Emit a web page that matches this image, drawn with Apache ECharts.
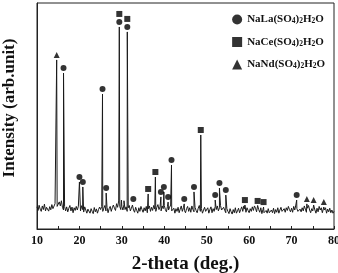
<!DOCTYPE html>
<html>
<head>
<meta charset="utf-8">
<script src="https://cdn.jsdelivr.net/npm/echarts@6/dist/echarts.min.js"></script>
<style>
  html, body { margin: 0; padding: 0; background: #fff; }
  #chart { width: 338px; height: 273px; }
</style>
</head>
<body>
<div id="chart"></div>
<script>
// 2-theta range, baseline sampled every 0.25 deg
const thetaStart = 10
const thetaStep = 0.25

// noisy background counts, 10.00 .. 80.00 deg
const baseline = [
  98, 82, 105, 88, 78, 102, 86, 110, 80, 96, 104, 79, 99, 85, 108, 90, 82, 112, 118, 100,
  95, 120, 102, 125, 96, 84, 100, 80, 98, 76, 92, 104, 80, 97, 72, 94, 82, 100, 84, 101,
  94, 80, 103, 86, 75, 98, 84, 70, 88, 96, 70, 90, 78, 68, 95, 76, 89, 70, 86, 97,
  86, 100, 78, 92, 104, 80, 96, 72, 90, 100, 78, 94, 106, 92, 82, 112, 96, 124, 100, 86,
  100, 84, 108, 86, 98, 78, 94, 104, 80, 92, 106, 84, 74, 96, 82, 70, 94, 78, 100, 86,
  74, 94, 80, 100, 72, 90, 102, 78, 96, 82, 104, 88, 78, 96, 108, 86, 98, 80, 102, 90,
  104, 86, 76, 100, 84, 96, 106, 80, 74, 92, 70, 90, 78, 96, 72, 88, 102, 78, 94, 82,
  72, 90, 100, 78, 94, 74, 102, 86, 76, 96, 82, 72, 92, 104, 78, 90, 70, 84, 96, 78,
  74, 94, 70, 86, 98, 72, 90, 78, 100, 86, 102, 80, 94, 104, 84, 76, 96, 82, 72, 90,
  78, 68, 90, 76, 66, 86, 72, 94, 70, 80, 92, 72, 86, 98, 78, 102, 88, 74, 94, 82,
  72, 90, 78, 98, 82, 102, 92, 76, 104, 86, 74, 94, 68, 86, 72, 64, 82, 70, 90, 72,
  66, 84, 72, 92, 68, 86, 74, 94, 70, 84, 96, 78, 70, 90, 74, 94, 82, 100, 86, 76,
  92, 74, 100, 84, 106, 90, 78, 70, 88, 76, 94, 80, 102, 88, 74, 92, 104, 84, 72, 90,
  80, 98, 84, 70, 92, 76, 100, 84, 94, 72, 66, 84, 94, 70, 88, 76, 92, 72, 84, 70,
  78
]

// diffraction peaks: position (deg) and top intensity
const peakPos = [14.64, 16.25, 20.0, 20.8, 25.44, 26.3, 29.4, 29.9, 30.5, 31.28, 32.7,
  36.2, 37.9, 39.2, 39.9, 40.9, 41.7, 44.7, 47.0, 48.6, 52.0, 53.0, 54.5,
  59.0, 62.0, 63.4, 71.2, 73.6, 75.2, 77.6]
const peakInt = [748, 690, 208, 186, 597, 159, 894, 128, 125, 872, 111,
  155, 230, 142, 164, 119, 283, 111, 164, 416, 128, 181, 150,
  106, 102, 97, 128, 111, 106, 97]

// phase assignment of peaks
const laPeaks = [16.25, 20.0, 20.8, 25.44, 26.3, 29.4, 31.28, 32.7, 39.2, 39.9, 40.9,
  41.7, 44.7, 47.0, 52.0, 53.0, 54.5, 71.2]
const cePeaks = [29.4, 31.28, 36.2, 37.9, 48.6, 59.0, 62.0, 63.4]
const ndPeaks = [14.64, 73.6, 75.2, 77.6]

const phaseNames = ['NaLa', 'NaCe', 'NaNd']

// 组合背景和峰
const pattern = baseline.map((v, i) => [thetaStart + i * thetaStep, v])
peakPos.forEach((p, i) => pattern.push([p, peakInt[i]]))
pattern.sort((a, b) => a[0] - b[0])

const markerData = (list, stacked) => list.map((p) => {
  const item = { value: [p, peakInt[peakPos.indexOf(p)]] }
  // 同一峰上已有圆点时，方块放在上面
  if (stacked && laPeaks.includes(p)) item.symbolOffset = [0, -13]
  return item
})

const serif = 'Liberation Serif'

const chart = echarts.init(document.getElementById('chart'), null, { renderer: 'canvas' })

chart.setOption({
  animation: false,
  grid: {
    left: 37,
    right: 4,
    top: 3,
    bottom: 44,
    outerBoundsMode: 'none',
    show: true,
    borderColor: '#222',
    borderWidth: 1
  },
  legend: {
    orient: 'vertical',
    right: 8,
    top: 9,
    itemWidth: 10,
    itemHeight: 10,
    itemGap: 11,
    data: [
      { name: 'NaLa', icon: 'circle' },
      { name: 'NaCe', icon: 'rect' },
      { name: 'NaNd', icon: 'triangle' }
    ],
    formatter: (name) => '{b|' + name + '(SO}{s|4}{b|)}{s|2}{b|H}{s|2}{b|O}',
    textStyle: {
      color: '#111',
      rich: {
        b: { fontFamily: serif, fontWeight: 'bold', fontSize: 11, color: '#111' },
        s: { fontFamily: serif, fontWeight: 'bold', fontSize: 7.5, color: '#111', padding: [4, 0, 0, 0] }
      }
    }
  },
  xAxis: {
    type: 'value',
    min: 10,
    max: 80,
    interval: 5,
    name: '2-theta (deg.)',
    nameLocation: 'middle',
    nameGap: 26,
    nameTextStyle: { fontFamily: serif, fontWeight: 'bold', fontSize: 19, color: '#111' },
    axisLine: { show: true, lineStyle: { color: '#222', width: 1 } },
    axisTick: { show: true, inside: true, length: 3, lineStyle: { color: '#222' } },
    axisLabel: {
      margin: 6,
      fontFamily: serif,
      fontWeight: 'bold',
      fontSize: 12,
      color: '#111',
      formatter: (v) => (v % 10 === 0 ? String(v) : '')
    },
    splitLine: { show: false }
  },
  yAxis: {
    type: 'value',
    min: 0,
    max: 1000,
    name: 'Intensity (arb.unit)',
    nameLocation: 'middle',
    nameGap: 19,
    nameTextStyle: {
      fontFamily: serif, fontWeight: 'bold', fontSize: 17, color: '#111',
      padding: [0, 0, 0, 16]
    },
    axisLine: { show: true, lineStyle: { color: '#222', width: 1 } },
    axisTick: { show: false },
    axisLabel: { show: false },
    splitLine: { show: false }
  },
  series: [
    {
      type: 'line',
      data: pattern,
      symbol: 'none',
      lineStyle: { color: '#1a1a1a', width: 1 },
      z: 2
    },
    {
      name: phaseNames[0],
      type: 'scatter',
      symbol: 'circle',
      symbolSize: 6,
      symbolOffset: [0, -5],
      itemStyle: { color: '#000' },
      data: markerData(laPeaks, false),
      z: 3
    },
    {
      name: phaseNames[1],
      type: 'scatter',
      symbol: 'rect',
      symbolSize: 6,
      symbolOffset: [0, -5],
      itemStyle: { color: '#000' },
      data: markerData(cePeaks, true),
      z: 3
    },
    {
      name: phaseNames[2],
      type: 'scatter',
      symbol: 'triangle',
      symbolSize: 6,
      symbolOffset: [0, -5],
      itemStyle: { color: '#000' },
      data: markerData(ndPeaks, false),
      z: 3
    }
  ]
})
</script>
</body>
</html>
